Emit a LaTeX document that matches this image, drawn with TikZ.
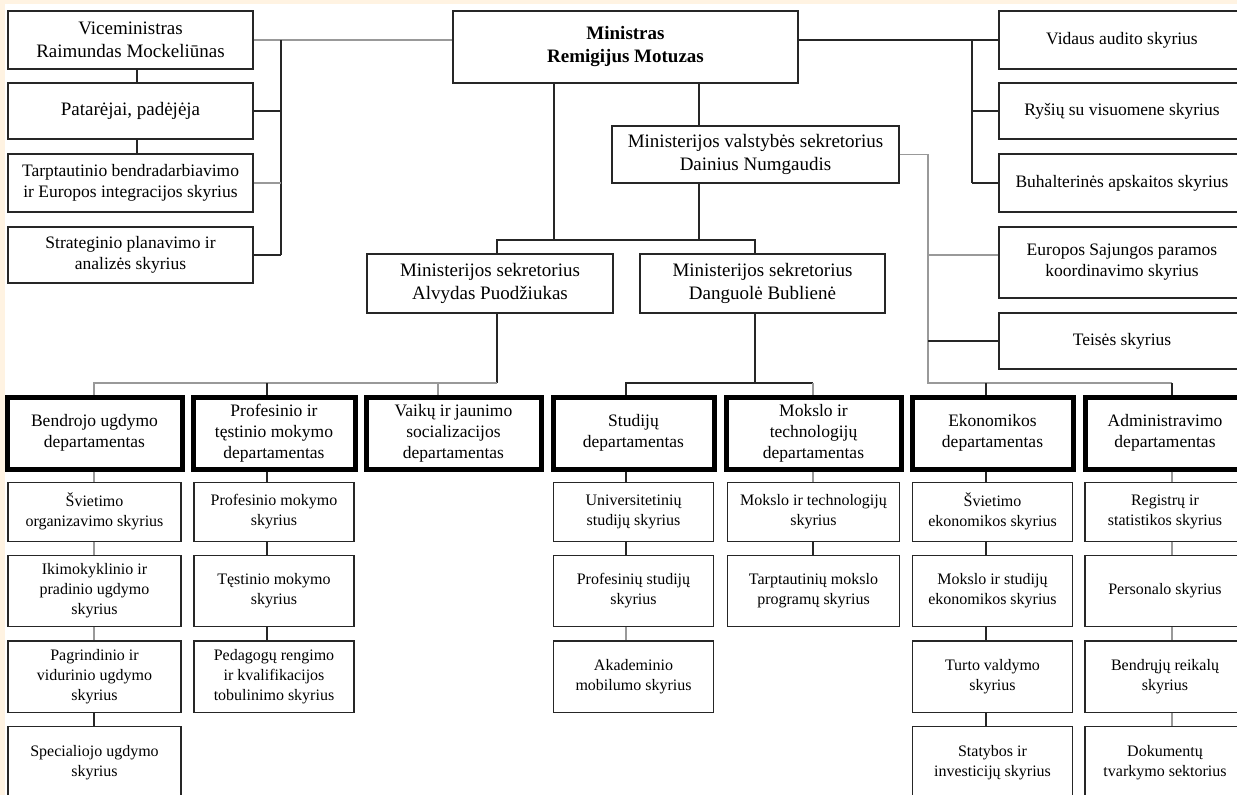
\documentclass[tikz,border=0pt]{standalone}
\usepackage{fontspec}
\setmainfont{Liberation Serif}
\usetikzlibrary{positioning}
\newcommand{\headfont}{\fontsize{19}{23}\selectfont}
\newcommand{\midfont}{\fontsize{17.5}{21}\selectfont}
\newcommand{\subfont}{\fontsize{16}{20}\selectfont}
\definecolor{pagecream}{HTML}{FFF3E2}
\tikzset{
  unitbox/.style={
    rectangle,
    draw=black!85,
    line width=1.2pt,
    align=center,
    inner sep=1pt,
  },
  headbox/.style={unitbox, font=\headfont},
  midbox/.style={unitbox, font=\midfont},
  deptbox/.style={unitbox, draw=black, line width=5pt, minimum height=72pt, font=\midfont},
  subbox/.style={unitbox, font=\subfont},
  rowa/.style={minimum height=59pt},
  rowb/.style={minimum height=71.5pt},
  link/.style={line width=1.2pt, draw=black!85},
  greylink/.style={line width=1.5pt, draw=black!40},
}

\begin{document}
\begin{tikzpicture}[x=1pt, y=-1pt]
    \useasboundingbox (0,0) rectangle (1237,795);
    \fill[pagecream] (0,0) rectangle (1237,4);
    \fill[pagecream] (0,0) rectangle (5,795);

    % top level
    \node (vice) [headbox, minimum width=245pt, minimum height=58pt] at (130.5,40) {Viceministras\\Raimundas Mockeliūnas};
    \node (patar) [headbox, minimum width=245pt, minimum height=56pt] at (130.5,111) {Patarėjai, padėjėja};
    \node (tarpt) [midbox, minimum width=245pt, minimum height=58pt] at (130.5,183) {Tarptautinio bendradarbiavimo\\ir Europos integracijos skyrius};
    \node (strat) [midbox, minimum width=245pt, minimum height=56pt] at (130.5,255) {Strateginio planavimo ir\\analizės skyrius};
    \node (minis) [headbox, font=\headfont\bfseries, minimum width=345pt, minimum height=72pt] at (625.5,47) {Ministras\\Remigijus Motuzas};
    \node (valst) [headbox, minimum width=287pt, minimum height=57pt] at (755.5,154.5) {Ministerijos valstybės sekretorius\\Dainius Numgaudis};
    \node (sekrA) [headbox, minimum width=246pt, minimum height=59pt] at (490,283.5) {Ministerijos sekretorius\\Alvydas Puodžiukas};
    \node (sekrB) [headbox, minimum width=245pt, minimum height=59pt] at (762.5,283.5) {Ministerijos sekretorius\\Danguolė Bublienė};
    \node (vidaus) [midbox, minimum width=246pt, minimum height=58pt] at (1122,40) {Vidaus audito skyrius};
    \node (rysiu) [midbox, minimum width=246pt, minimum height=56pt] at (1122,111) {Ryšių su visuomene skyrius};
    \node (buhal) [midbox, minimum width=246pt, minimum height=58pt] at (1122,183) {Buhalterinės apskaitos skyrius};
    \node (europ) [midbox, minimum width=246pt, minimum height=71pt] at (1122,262.5) {Europos Sajungos paramos\\koordinavimo skyrius};
    \node (teises) [midbox, minimum width=246pt, minimum height=56pt] at (1122,341) {Teisės skyrius};

    % departamentai
    \node (bendr) [deptbox, minimum width=175pt] at (94.5,433) {Bendrojo ugdymo\\departamentas};
    \node (profd) [deptbox, minimum width=162pt] at (274,433) {Profesinio ir\\tęstinio mokymo\\departamentas};
    \node (vaiku) [deptbox, minimum width=175pt] at (453.5,433) {Vaikų ir jaunimo\\socializacijos\\departamentas};
    \node (studd) [deptbox, minimum width=161pt] at (633.5,433) {Studijų\\departamentas};
    \node (moksd) [deptbox, minimum width=175pt] at (813.5,433) {Mokslo ir\\technologijų\\departamentas};
    \node (ekond) [deptbox, minimum width=161pt] at (992.5,433) {Ekonomikos\\departamentas};
    \node (admd) [deptbox, minimum width=160pt] at (1165,433) {Administravimo\\departamentas};

    % skyriai
    \node (bu1) [subbox, rowa, minimum width=173pt, below=10pt of bendr] {Švietimo\\organizavimo skyrius};
    \node (bu2) [subbox, rowb, minimum width=173pt, below=13pt of bu1] {Ikimokyklinio ir\\pradinio ugdymo\\skyrius};
    \node (bu3) [subbox, rowb, minimum width=173pt, below=13pt of bu2] {Pagrindinio ir\\vidurinio ugdymo\\skyrius};
    \node (bu4) [subbox, rowb, minimum width=173pt, below=13pt of bu3] {Specialiojo ugdymo\\skyrius};
    \node (pr1) [subbox, rowa, minimum width=160pt, below=10pt of profd] {Profesinio mokymo\\skyrius};
    \node (pr2) [subbox, rowb, minimum width=160pt, below=13pt of pr1] {Tęstinio mokymo\\skyrius};
    \node (pr3) [subbox, rowb, minimum width=160pt, below=13pt of pr2] {Pedagogų rengimo\\ir kvalifikacijos\\tobulinimo skyrius};
    \node (st1) [subbox, rowa, minimum width=160pt, below=10pt of studd] {Universitetinių\\studijų skyrius};
    \node (st2) [subbox, rowb, minimum width=160pt, below=13pt of st1] {Profesinių studijų\\skyrius};
    \node (st3) [subbox, rowb, minimum width=160pt, below=13pt of st2] {Akademinio\\mobilumo skyrius};
    \node (mo1) [subbox, rowa, minimum width=172pt, below=10pt of moksd] {Mokslo ir technologijų\\skyrius};
    \node (mo2) [subbox, rowb, minimum width=172pt, below=13pt of mo1] {Tarptautinių mokslo\\programų skyrius};
    \node (ek1) [subbox, rowa, minimum width=160pt, below=10pt of ekond] {Švietimo\\ekonomikos skyrius};
    \node (ek2) [subbox, rowb, minimum width=160pt, below=13pt of ek1] {Mokslo ir studijų\\ekonomikos skyrius};
    \node (ek3) [subbox, rowb, minimum width=160pt, below=13pt of ek2] {Turto valdymo\\skyrius};
    \node (ek4) [subbox, rowb, minimum width=160pt, below=13pt of ek3] {Statybos ir\\investicijų skyrius};
    \node (ad1) [subbox, rowa, minimum width=160pt, below=10pt of admd] {Registrų ir\\statistikos skyrius};
    \node (ad2) [subbox, rowb, minimum width=160pt, below=13pt of ad1] {Personalo skyrius};
    \node (ad3) [subbox, rowb, minimum width=160pt, below=13pt of ad2] {Bendrųjų reikalų\\skyrius};
    \node (ad4) [subbox, rowb, minimum width=160pt, below=13pt of ad3] {Dokumentų\\tvarkymo sektorius};

    % bus lines
    \coordinate (busL) at (281,0);
    \coordinate (busR) at (972,0);
    \coordinate (jA) at (554,240);
    \coordinate (jB) at (699,240);
    \coordinate (hL) at (497,240);
    \coordinate (hR) at (755,240);
    \coordinate (dA) at (497,383);
    \coordinate (dB) at (755,383);
    \coordinate (busV) at (928,383);
    \coordinate (eu) at ([yshift=7.5pt]europ.west);
    \coordinate (cBe) at (94,0);
    \coordinate (cPr) at (267,0);
    \coordinate (cVa) at (438,0);
    \coordinate (cSt) at (626,0);
    \coordinate (cMo) at (813,0);
    \coordinate (cEk) at (986,0);
    \coordinate (cAd) at (1172,0);

    \draw[greylink] (vice.east) -- (minis.west |- vice.east);
    \draw[link] (busL |- vice.east) -- (busL |- strat.east);
    \draw[link] (patar.east) -- (busL |- patar.east);
    \draw[greylink] (tarpt.east) -- (busL |- tarpt.east);
    \draw[link] (strat.east) -- (busL |- strat.east);
    \draw[link] ([xshift=6.5pt]vice.south) -- ([xshift=6.5pt]patar.north);
    \draw[link] ([xshift=6.5pt]patar.south) -- ([xshift=6.5pt]tarpt.north);

    \draw[link] (minis.east |- vidaus.west) -- (vidaus.west);
    \draw[link] (busR |- vidaus.west) -- (busR |- buhal.west);
    \draw[link] (busR |- rysiu.west) -- (rysiu.west);
    \draw[link] (busR |- buhal.west) -- (buhal.west);

    \draw[link] (minis.south -| jA) -- (jA);
    \draw[link] (minis.south -| jB) -- (valst.north -| jB);
    \draw[link] (valst.south -| jB) -- (jB);
    \draw[link] (hL |- sekrA.north) -- (hL) -- (hR) -- (hR |- sekrB.north);

    \draw[link] (dA |- sekrA.south) -- (dA);
    \draw[greylink] (dA) -- (cBe |- dA) -- (cBe |- bendr.north);
    \draw[link] (cPr |- dA) -- (cPr |- profd.north);
    \draw[greylink] (cVa |- dA) -- (cVa |- vaiku.north);

    \draw[link] (dB |- sekrB.south) -- (dB);
    \draw[link] (cSt |- studd.north) -- (cSt |- dB) -- (cMo |- dB);
    \draw[greylink] (cMo |- dB) -- (cMo |- moksd.north);

    \draw[greylink] (valst.east) -- (busV |- valst.east) -- (busV) -- (cAd |- busV);
    \draw[greylink] (busV |- eu) -- (eu);
    \draw[link] (busV |- teises.west) -- (teises.west);
    \draw[link] (cEk |- busV) -- (cEk |- ekond.north);
    \draw[link] (cAd |- busV) -- (cAd |- admd.north);

    % department chains
    \foreach \ua/\ub/\ux/\us in {bendr/bu1/cBe/greylink, bu1/bu2/cBe/greylink, bu2/bu3/cBe/greylink, bu3/bu4/cBe/link,
        profd/pr1/cPr/link, pr1/pr2/cPr/link, pr2/pr3/cPr/link,
        studd/st1/cSt/link, st1/st2/cSt/link, st2/st3/cSt/greylink,
        moksd/mo1/cMo/greylink, mo1/mo2/cMo/link,
        ekond/ek1/cEk/link, ek1/ek2/cEk/link, ek2/ek3/cEk/link, ek3/ek4/cEk/link,
        admd/ad1/cAd/greylink, ad1/ad2/cAd/greylink, ad2/ad3/cAd/greylink, ad3/ad4/cAd/greylink}
      \draw[\us] (\ux |- \ua.south) -- (\ux |- \ub.north);
\end{tikzpicture}
\end{document}
